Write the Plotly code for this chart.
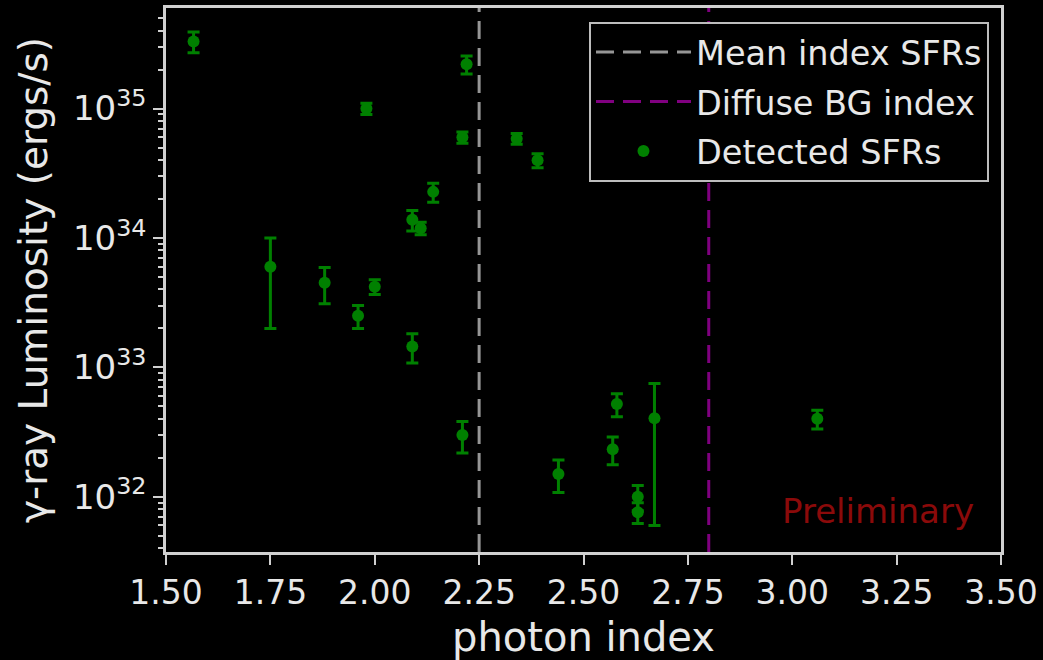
import plotly.graph_objects as go
import numpy as np

# ---- data ----
photon_index = [1.566, 1.75, 1.88, 1.96, 1.98, 2.00, 2.09, 2.11, 2.09, 2.14, 2.21,
                2.22, 2.21, 2.34, 2.39, 2.44, 2.57, 2.58, 2.63, 2.63, 2.67, 3.06]
luminosity = [3.3e35, 6.0e33, 4.5e33, 2.5e33, 1.0e35, 4.2e33, 1.38e34, 1.19e34, 1.45e33,
              2.27e34, 6.0e34, 2.2e35, 3.0e32, 5.85e34, 3.98e34, 1.5e32, 2.33e32,
              5.2e32, 1.0e32, 7.6e31, 4.05e32, 4.0e32]
luminosity_err = [0.6e35, 4.0e33, 1.4e33, 0.5e33, 0.1e35, 0.55e33, 0.25e34, 0.13e34,
                  0.37e33, 0.38e34, 0.6e34, 0.35e35, 0.82e32, 0.55e34, 0.5e34, 0.42e32,
                  0.56e32, 1.05e32, 0.22e32, 1.4e31, 3.45e32, 0.66e32]
mean_index_sfrs = 2.25
diffuse_bg_index = 2.80

x_range = [1.5, 3.5]
y_log_range = [31.573, 35.777]
x_ticks = [1.50, 1.75, 2.00, 2.25, 2.50, 2.75, 3.00, 3.25, 3.50]
y_decades = [32, 33, 34, 35]

FONT = "DejaVu Sans"
TXT = "#e8e8e8"
AX = "#d0d0d0"

y_span = [10.0 ** y_log_range[0], 10.0 ** y_log_range[1]]

fig = go.Figure()

fig.add_trace(go.Scatter(
    x=[mean_index_sfrs, mean_index_sfrs], y=y_span, mode="lines",
    line=dict(color="#969696", width=3, dash="18px,9px"),
    name="Mean index SFRs", legendgroup="a"))
fig.add_trace(go.Scatter(
    x=[diffuse_bg_index, diffuse_bg_index], y=y_span, mode="lines",
    line=dict(color="#800080", width=3, dash="18px,9px"),
    name="Diffuse BG index", legendgroup="b"))
fig.add_trace(go.Scatter(
    x=photon_index, y=luminosity, mode="markers",
    marker=dict(color="#008000", size=12, symbol="circle"),
    error_y=dict(type="data", array=luminosity_err, visible=True,
                 color="#008000", thickness=3, width=6),
    name="Detected SFRs", legendgroup="c"))

minor_vals = [float(m) * 10.0 ** d for d in range(31, 36) for m in range(2, 10)]

fig.update_layout(
    width=1043, height=660,
    paper_bgcolor="black", plot_bgcolor="black",
    margin=dict(l=166, r=41, t=5, b=108, pad=0),
    font=dict(family=FONT, color=TXT, size=32),
    showlegend=True,
    legend=dict(x=0.9856, xanchor="right", y=0.975, yanchor="top",
                bgcolor="black", bordercolor="#bdbdbd", borderwidth=2,
                font=dict(family=FONT, size=33.5, color=TXT),
                itemwidth=95,
                traceorder="grouped", tracegroupgap=3),
    annotations=[dict(x=3.205, y=float(np.log10(7.8e31)), xref="x", yref="y",
                      text="Preliminary", showarrow=False,
                      font=dict(family=FONT, size=34, color="#8b0a0a"))],
)

fig.update_xaxes(
    range=x_range, tickvals=x_ticks, ticktext=[f"{v:.2f}" for v in x_ticks],
    ticks="outside", ticklen=10, tickwidth=2, tickcolor=AX,
    showline=True, linecolor=AX, linewidth=2.5, mirror=True,
    showgrid=False, zeroline=False,
    tickfont=dict(family=FONT, size=33, color=TXT),
    title=dict(text="photon index", font=dict(family=FONT, size=40, color=TXT), standoff=12),
)
fig.update_yaxes(
    type="log", range=y_log_range,
    tickvals=[10.0 ** d for d in y_decades],
    ticktext=[f"10<sup>{d}</sup>" for d in y_decades],
    ticks="outside", ticklen=10, tickwidth=2, tickcolor=AX,
    minor=dict(tickvals=minor_vals, ticks="outside", ticklen=5, tickwidth=1.5, tickcolor=AX,
               showgrid=False),
    showline=True, linecolor=AX, linewidth=2.5, mirror=True,
    showgrid=False, zeroline=False,
    tickfont=dict(family=FONT, size=34, color=TXT),
    title=dict(text="γ-ray Luminosity (ergs/s)", font=dict(family=FONT, size=39, color=TXT), standoff=14),
)

fig.write_html("out.html", config={"displayModeBar": False},
               post_script="document.body.style.margin='0px';")
